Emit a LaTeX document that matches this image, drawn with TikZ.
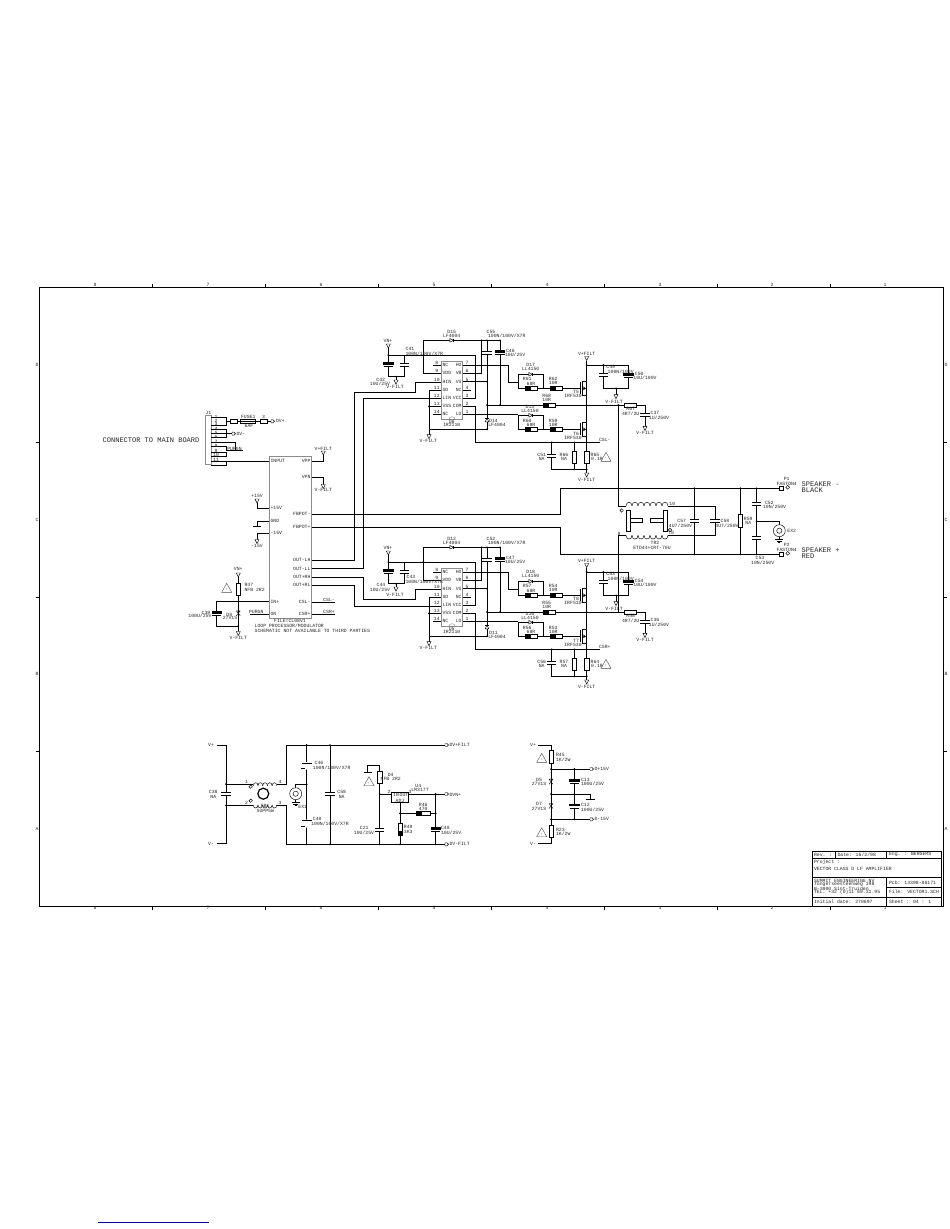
\documentclass[tikz,border=0pt]{standalone}
\usepackage{fontspec}
\setmainfont{Liberation Mono}
\newcounter{tn}
\tikzset{
  x=1pt,y=-1pt,
  wire/.style={line width=0.85pt,black,line join=miter},
  thin line/.style={line width=0.45pt,black},
  lbl/.style={inner sep=0pt,outer sep=0pt,font=\fontsize{4.8}{5}\selectfont,text=black!85},
  big/.style={inner sep=0pt,outer sep=0pt,font=\fontsize{7}{8}\selectfont,text=black!85},
  gbox/.style={line width=0.7pt,draw=black!45,fill=white}
}
\newcommand{\lb}[4][]{\stepcounter{tn}\node[lbl,#1] (t\thetn) at (#2,#3) {#4};}
\newcommand{\bg}[3]{\stepcounter{tn}\node[big,anchor=west] (t\thetn) at (#1,#2) {#3};}
\newcommand{\dt}[2]{\fill (#1,#2) circle[radius=1];}
\newcommand{\resH}[3]{\draw[thin line,fill=white] (#1,#3-2) rectangle (#2,#3+2);}
\newcommand{\resHb}[3]{\draw[thin line,fill=white] (#1,#3-2) rectangle (#2,#3+2);\fill (#1,#3-1.5) rectangle (#1+5.5,#3+2.5);}
\newcommand{\resV}[3]{\draw[thin line,fill=white] (#1-2.2,#2) rectangle (#1+2.2,#3);}
\newcommand{\capV}[2]{\fill[white] (#1-5,#2-1.4) rectangle (#1+5,#2+1.4);\draw[wire] (#1-4.7,#2-1.5)--(#1+4.7,#2-1.5) (#1-4.7,#2+1.5)--(#1+4.7,#2+1.5);}
\newcommand{\capP}[2]{\fill[white] (#1-5,#2-1.4) rectangle (#1+5,#2+1.4);\draw[thin line,fill=black] (#1-4.7,#2-2.6) rectangle (#1+4.7,#2-0.8);\draw[wire] (#1-4.7,#2+1.5)--(#1+4.7,#2+1.5);}
\newcommand{\tri}[2]{\draw[thin line,fill=white] (#1-2,#2-2)--(#1+2,#2-2)--(#1,#2+2)--cycle;}
\newcommand{\gnd}[2]{\draw[thin line] (#1,#2-2)--(#1,#2) (#1-4,#2)--(#1+4,#2) (#1-2.5,#2+1.3)--(#1+2.5,#2+1.3) (#1-1,#2+2.6)--(#1+1,#2+2.6);}
\newcommand{\diH}[2]{\draw[thin line,fill=white] (#1-1.8,#2-1.8)--(#1+1.8,#2)--(#1-1.8,#2+1.8)--cycle;\draw[thin line] (#1+1.8,#2-1.8)--(#1+1.8,#2+1.8);}
\newcommand{\diV}[2]{\draw[thin line,fill=white] (#1-1.8,#2+1.8)--(#1,#2-1.8)--(#1+1.8,#2+1.8)--cycle;\draw[thin line] (#1-1.8,#2-1.8)--(#1+1.8,#2-1.8);}
\newcommand{\zen}[2]{\draw[thin line] (#1-2,#2-2.5)--(#1+2,#2+2.5) (#1+2,#2-2.5)--(#1-2,#2+2.5) (#1-2,#2-2.5)--(#1+2,#2-2.5);}
\newcommand{\warn}[2]{\draw[line width=0.4pt,black!70,fill=white] (#1,#2-5)--(#1+5,#2+4)--(#1-5,#2+4)--cycle;\lb{#1}{#2+1.5}{\fontsize{3}{3}\selectfont !}}
\newcommand{\flag}[2]{\draw[thin line,fill=white] (#1,#2-1.5)--(#1+2,#2-1.5)--(#1+3.5,#2)--(#1+2,#2+1.5)--(#1,#2+1.5)--cycle;}
\newcommand{\coil}[5]{\foreach \i [evaluate=\i as \a using #1+\i*#4, evaluate=\i as \b using #1+(\i+1)*#4] in {0,...,#3}{\draw[thin line] (\a,#2) .. controls (\a,#2+#5) and (\b,#2+#5) .. (\b,#2);}}
\newcommand{\fet}[1]{\draw[wire] (575,#1)--(580,#1);\draw[thin line] (580,#1-6)--(580,#1+6);\draw[thin line,fill=white] (582,#1-7) rectangle (586.7,#1+7);\draw[thin line] (582,#1)--(586.7,#1) (583.5,#1-1.5)--(583.5,#1+1.5)--(585.5,#1)--cycle;}
\newcommand{\bnc}[2]{\draw[thin line,fill=white] (#1,#2) circle[radius=6];\draw[thin line] (#1,#2) circle[radius=2.6];\gnd{#1}{#2+9}\draw[thin line] (#1,#2+6)--(#1,#2+7);}
% half-bridge driver: #1 vertical offset; names come from \def's
\newcommand{\driver}[1]{%
\begin{scope}[shift={(0,#1)}]
\draw[wire] (433.3,365.3)--(441.7,365.3) (433.3,414.3)--(441.7,414.3)
 (441.7,373.3)--(423.3,373.3)--(423.3,340.3)--(500,340.3)--(500,405)
 (487,340.3)--(487,429.3)--(429,429.3)
 (462.3,373.3)--(481.7,373.3)--(481.7,340.3)
 (462.3,381.7)--(487,381.7)
 (462.3,390)--(470.7,390)
 (462.3,398)--(475,398)--(475,355)--(388.3,355)--(388.3,347)
 (462.3,406.3)--(475,406.3)--(475,442.3)--(600,442.3)
 (462.3,365.3)--(508.3,365.3)--(508.3,382.3)--(518.3,382.3)
 (462.3,414.3)--(518.3,414.3)
 (441.7,390)--(429,390)--(429,434.5)
 (441.7,406.3)--(429,406.3)
 (388.3,355)--(388.3,376.7)--(404.3,376.7)--(404.3,355)
 (396,376.7)--(396,380)
 (518.3,374.3)--(543.3,374.3)--(543.3,388.3)--(518.3,388.3)--cycle
 (543.3,388.3)--(575,388.3)
 (518.3,415.3)--(543.3,415.3)--(543.3,429.3)--(518.3,429.3)--cycle
 (543.3,429.3)--(575,429.3)
 (487,405)--(645,405)--(645,426)
 (586.7,360.5)--(586.7,469.3)--(551.7,469.3)--(551.7,442.3)
 (586.7,469.3)--(586.7,473)
 (574.3,442.3)--(574.3,469.3)
 (586.7,365)--(628.3,365)--(628.3,388.3)--(603.3,388.3)--(603.3,365)
 (616,388.3)--(616,394.7);
\fill[white] (441.7,361.7) rectangle (462.3,419);
\draw[gbox] (441.7,361.7) rectangle (462.3,419);
\draw[line width=0.4pt,black!50] (449,419) .. controls (449,416) and (455,416) .. (455,419);
\foreach \yy/\l/\ln/\r/\rn in {365.3/8/NC/7/HO,373.3/9/VDD/6/VB,381.7/10/HIN/5/VS,390/11/SD/4/NC,398/12/LIN/3/VCC,406.3/13/VSS/2/COM,414.3/14/NC/1/LO}{
  \lb{436.8}{\yy-2}{\l}\lb{467}{\yy-2}{\r}
  \lb[anchor=west]{442.5}{\yy}{\ln}\lb[anchor=east]{461.6}{\yy}{\rn}}
\foreach \xx/\yy in {423.3/355,487/340.3,500/340.3,481.7/340.3,487/381.7,487/405,500/405,429/406.3,487/429.3,396/376.7,388.3/355,586.7/365,603.3/365,586.7/405,586.7/442.3,551.7/442.3,574.3/442.3,574.3/469.3,586.7/469.3,616/388.3}{\dt{\xx}{\yy}}
\diH{451.7}{340.3}\diV{487}{420}
\capV{487}{353}\capP{500}{353}
\capP{388.3}{365}\capV{404.3}{365}
\tri{388.3}{346}\tri{396}{382}\tri{429}{436.7}
\diH{530.7}{374.3}\diH{530.7}{415.3}
\resHb{525}{537}{388.3}\resHb{550}{562}{388.3}
\resHb{525}{537}{429.3}\resHb{550}{562}{429.3}
\resHb{543}{555}{405}\resH{624.3}{636.7}{405}
\fet{388.3}\fet{429.3}
\tri{586.7}{358.5}\tri{586.7}{475}\tri{616}{396.7}\tri{645}{428.3}
\resV{574.3}{451}{463.3}\resV{586.7}{451}{463.3}\capV{551.7}{456}
\capV{603.3}{375}\capP{628.3}{376}\capV{645}{415}
\warn{606}{457.3}
\lb{451.7}{332.3}{\nD}\lb{451.7}{336}{LF4004}
\lb{491}{332.3}{\nCa}\lb[anchor=west]{488}{336}{100N/100V/X7R}
\lb[anchor=west]{506}{351}{\nCb}\lb[anchor=west]{505}{355}{10U/25V}
\lb{451.7}{421.7}{\nU}\lb{451.7}{425.3}{IR2110}
\lb{493.5}{421.3+\dLift}{\nDb}\lb{497}{425+\dLift}{LF4004}
\lb{530.7}{365}{\nDc}\lb{530.7}{369.3}{LL4150}
\lb{527.3}{379.3}{\nRa}\lb{531}{384}{68R}
\lb{553.3}{379.3}{\nRb}\lb{553.3}{383.3}{10R}
\lb{576}{391.7}{\nTa}\lb{573}{396}{IRF530}
\lb{546.7}{396}{\nRc}\lb{546.7}{400.3}{10R}
\lb{530}{406.7}{\nDd}\lb{530}{410.7}{LL4150}
\lb{527.3}{421}{\nRd}\lb{531}{425}{68R}
\lb{553.3}{421}{\nRe}\lb{553.3}{425}{10R}
\lb{576}{434}{\nTb}\lb{573}{438.3}{IRF530}
\lb{541.7}{455}{\nCc}\lb{541.7}{459}{NA}
\lb{564}{455}{\nRf}\lb{564}{459}{NA}
\lb{595}{455}{\nRg}\lb{597}{459}{0.1R}
\lb[anchor=west]{599}{440}{\nCS}
\lb{586.7}{480}{V-FILT}\lb{586.7}{354}{V+FILT}
\lb{428.3}{441.3}{V-FILT}
\lb{610.7}{367.3}{\nCd}\lb{620.7}{371.7}{100N/100V}
\lb{639.3}{374}{\nCe}\lb{645}{378}{10U/100V}
\lb{614}{402.3}{V-FILT}
\lb{630.7}{409.3}{\nRh}\lb{630.7}{413.3}{4R7/2U}
\lb{655}{413.3}{\nCf}\lb{659}{417.3}{1U/250V}
\lb{645}{432.7}{V-FILT}
\end{scope}}
\begin{document}
\begin{tikzpicture}[x=1pt,y=-1pt]
\useasboundingbox (0,0) rectangle (950,1229);
\fill[white] (0,0) rectangle (950,1229);
% frame
\draw[line width=1pt] (39.5,287.5) rectangle (943,906);
\foreach \xx in {152,265,378,491,604,717,830}{\draw[wire] (\xx,283.5)--(\xx,287.5) (\xx,906)--(\xx,910);}
\foreach \yy in {442,597.5,751.5}{\draw[wire] (35.5,\yy)--(39.5,\yy) (943,\yy)--(947,\yy);}
\foreach \xx/\n in {95/8,208/7,321/6,434/5,547/4,660/3,772/2,885/1}{\lb{\xx}{285}{\n}\lb{\xx}{908}{\n}}
\foreach \yy/\n in {365/D,520/C,674/B,829/A}{\lb{37}{\yy}{\n}\lb{946}{\yy}{\n}}
\draw[line width=1pt,color={rgb,255:red,0;green,0;blue,160}] (98,1222)--(209,1222);
% connector J1
\draw[gbox] (205.7,415) rectangle (211,464);
\lb{208.3}{412.7}{J1}
\draw[wire] (211,417.7)--(226.7,417.7)--(226.7,425)--(211,425)
 (226.7,421.3)--(230.3,421.3) (237.7,421.3)--(240,421.3) (255.7,421.3)--(260,421.3) (267.3,421.3)--(271,421.3)
 (211,429.7)--(226.7,429.7)--(226.7,437.7)--(211,437.7) (211,433.7)--(232,433.7)
 (211,442.7)--(235,442.7)--(235,450.7) (211,446.7)--(226.7,446.7)--(226.7,450.7)--(243,450.7)
 (211,452.3)--(226.7,452.3)--(226.7,456)--(211,456)
 (211,461)--(226.7,461)--(226.7,465)--(211,465) (226.7,461)--(269.7,461);
\draw[thin line,fill=white] (230.3,419.3) rectangle (237.7,423.3);
\draw[thin line,fill=white] (240,419.3) rectangle (255.7,423.3);
\draw[thin line] (240,421.3)--(255.7,421.3);
\draw[thin line,fill=white] (260,419.3) rectangle (267.3,423.3);
\flag{271}{421.3}\flag{232}{433.7}
\foreach \yy/\n in {417.7/1,421.7/2,425/3,429.7/4,433.7/5,437.7/6,442.7/7,446.7/8,452.3/9,456/10,461/11}{\lb{216}{\yy-1}{\n}}
\lb{248.3}{417.3}{FUSE1}\lb{249}{425.5}{6AF}\lb{263.5}{417}{3}
\lb[anchor=west]{276}{421.3}{DV+}\lb[anchor=west]{236.5}{433.7}{DV-}
\lb{234.5}{448.5}{PURGN}
\stepcounter{tn}\node[big,anchor=west] (t\thetn) at (102.7,440) {CONNECTOR TO MAIN BOARD};
% main block
\draw[wire] (311.3,461)--(323.3,461)--(323.3,455)
 (311.3,477.3)--(323.3,477.3)--(323.3,485)
 (269.7,508.3)--(257,508.3)--(257,503)
 (269.7,521)--(257.7,521)--(257.7,526.7) (253,526.7)--(261,526.7)
 (269.7,533.3)--(257,533.3)--(257,540)
 (311.3,514.3)--(560.7,514.3)--(560.7,488.3)--(779,488.3)
 (311.3,527.3)--(560.7,527.3)--(560.7,554.3)--(779,554.3)
 (311.3,560.3)--(354.5,560.3)--(354.5,392.5)--(415.7,392.5)--(415.7,382)--(441.7,382)
 (311.3,568.7)--(363.3,568.7)--(363.3,398.3)--(441.7,398.3)
 (311.3,577)--(363.3,577)--(363.3,599.3)--(415.7,599.3)--(415.7,589.3)--(441.7,589.3)
 (311.3,585.3)--(354.5,585.3)--(354.5,606)--(441.7,606)
 (311.3,602)--(335,602) (311.3,614.3)--(335,614.3)
 (269.7,601.7)--(216.7,601.7)--(216.7,626)--(238.3,626)
 (238.3,577)--(238.3,632)
 (249.5,614.3)--(269.7,614.3);
\draw[gbox] (269.7,456.7) rectangle (311.3,618.7);
\foreach \yy/\t in {461/INPUT,508.3/+15V,521/GND,533.3/-15V,601.7/IN+,614.3/ON}{\lb[anchor=west]{270.5}{\yy}{\t}}
\foreach \yy/\t in {461/VPP,477.3/VPN,514.3/FBPOT-,527.3/FBPOT+,560.3/OUT-LH,568.7/OUT-LL,577/OUT+RH,585.3/OUT+RL,602/CSL-,614.3/CSR+}{\lb[anchor=east]{310.5}{\yy}{\t}}
\tri{323.3}{453}\tri{323.3}{486.5}\tri{257}{501}\tri{257}{541.5}
\lb{323.3}{449}{V+FILT}\lb{323.3}{489.5}{V-FILT}\lb{257}{496}{+15V}\lb{257}{546}{-15V}
\lb{329}{600}{CSL-}\lb{329}{612}{CSR+}
\lb{290}{620.7}{FILE=CL08V1}
\lb[anchor=west]{254.7}{625.3}{LOOP PROCESSOR/MODULATOR}
\lb[anchor=west]{254.7}{631.3}{SCHEMATIC NOT AVAILABLE TO THIRD PARTIES}
\lb[anchor=west]{249}{612}{PURGN}
\resV{238.3}{583.3}{595.7}\tri{238.3}{575}\tri{238.3}{633.5}
\capP{216.7}{614}\zen{238.3}{613.3}\dt{238.3}{601.7}\dt{238.3}{626}
\warn{226.7}{588.3}
\lb{238.3}{569.3}{VN+}\lb{238.3}{638.3}{V-FILT}
\lb[anchor=west]{244.5}{585}{R47}\lb[anchor=west]{244.5}{589.5}{NFB 2R2}
\lb{206}{612.5}{C39}\lb{200}{616}{100U/25V}\lb{229.3}{614.5}{D8}\lb{230}{618.3}{27V1S}
% drivers
\def\nD{D15}\def\nCa{C55}\def\nCb{C46}\def\nU{U6}\def\nDb{D14}\def\nDc{D17}\def\nRa{R61}\def\nRb{R62}\def\nTa{T5}\def\nRc{R68}\def\nDd{D13}\def\nRd{R60}\def\nRe{R59}\def\nTb{T6}\def\nCc{C51}\def\nRf{R66}\def\nRg{R65}\def\nCS{CSL-}\def\nCd{C49}\def\nCe{C50}\def\nRh{R67}\def\nCf{C37}\def\dLift{0}
\driver{0}
\def\nD{D12}\def\nCa{C52}\def\nCb{C47}\def\nU{U5}\def\nDb{D11}\def\nDc{D18}\def\nRa{R57}\def\nRb{R54}\def\nTa{T8}\def\nRc{R55}\def\nDd{D16}\def\nRd{R56}\def\nRe{R53}\def\nTb{T7}\def\nCc{C56}\def\nRf{R57}\def\nRg{R64}\def\nCS{CSR+}\def\nCd{C53}\def\nCe{C54}\def\nRh{R58}\def\nCf{C36}\def\dLift{4.5}
\driver{207}
\lb{388}{341}{VN+}\lb{388}{548}{VN+}
\lb{410}{349.3}{C41}\lb{424.3}{353.3}{100N/100V/X7R}
\lb{380.7}{380}{C42}\lb{380}{384}{10U/25V}\lb{395}{387.3}{V-FILT}
\lb{411}{577.3}{C43}\lb{424.3}{581.7}{100N/100V/X7R}
\lb{381}{585}{C44}\lb{380}{589.5}{10U/25V}\lb{395}{595}{V-FILT}
% output filter
\draw[wire] (618.3,405)--(618.3,506)--(626,506)
 (618.3,612)--(618.3,535.3)--(626,535.3)
 (668,506)--(715,506)--(715,535.3)--(668,535.3)
 (694.3,488.3)--(694.3,554.3) (740.3,488.3)--(740.3,554.3) (756.7,488.3)--(756.7,554.3)
 (756.7,521.3)--(779.3,521.3)--(779.3,525);
\dt{618.3}{405}\dt{694.3}{488.3}\dt{740.3}{488.3}\dt{756.7}{488.3}\dt{694.3}{554.3}\dt{740.3}{554.3}\dt{756.7}{554.3}\dt{756.7}{521.3}\dt{618.3}{488.3}\dt{618.3}{554.3}
\coil{626}{506}{6}{6}{-5}\coil{626}{535.3}{6}{6}{5}
\draw[wire] (626,510.7) rectangle (630.7,531.3) (663,510.7) rectangle (667.7,531.3)
 (630.7,518.3) rectangle (642.7,522.3) (650.3,518.3) rectangle (663,522.3);
\draw[thin line] (621.7,510.5) circle[radius=1.7] (670,530) circle[radius=1.7];
\capV{694.3}{520.7}\capV{715}{520.7}\capV{756.7}{504.3}\capV{756.7}{537.7}
\resV{740.3}{514.3}{527.7}
\bnc{779.3}{530.7}
\draw[thin line,fill=white] (779,486) rectangle (783,490.7) (779,552) rectangle (783,556.7);
\draw[thin line] (787.7,487.3) circle[radius=1.9] (787.7,553.3) circle[radius=1.9];
\lb{672.3}{504.3}{10}\lb{619}{533.5}{8}\lb{671}{532.5}{70}
\lb{655}{543.3}{TR2}\lb{652}{547.7}{ETD44+CRT-70U}
\lb{681.7}{521.3}{C57}\lb{680.5}{525.5}{4U7/250V}
\lb{725}{521.3}{C58}\lb{727}{525.5}{4U7/250V}
\lb{748.3}{519.3}{R59}\lb{748.3}{523}{NA}
\lb[anchor=west]{765}{502.7}{C52}\lb[anchor=west]{763}{506.7}{10N/250V}
\lb{760}{558.3}{C53}\lb{762.7}{562.7}{10N/250V}
\lb{791.7}{531}{EX2}
\lb{786.7}{479}{P1}\lb{786.7}{483.7}{FASTON4}
\lb{786.7}{545.3}{P2}\lb{786.7}{550}{FASTON4}
\bg{801.7}{484}{SPEAKER -}\bg{801.7}{490.3}{BLACK}
\bg{801.7}{550}{SPEAKER +}\bg{801.7}{556.3}{RED}
% power input
\draw[wire] (216.7,745)--(226,745)--(226,843.3)--(216.7,843.3)
 (226,784)--(253,784) (276.7,784)--(286.7,784)--(286.7,745)--(445,745)
 (226,805.3)--(253,805.3) (276.7,805.3)--(286.7,805.3)--(286.7,844.3)--(445,844.3)
 (306.7,745)--(306.7,844.3) (330,745)--(330,844.3)
 (295.7,784.3)--(306.7,784.3) (295.7,784.3)--(295.7,788)
 (379.7,765)--(379.7,844.3) (379.7,765)--(367.5,765)--(367.5,772.7) (363.5,772.7)--(372,772.7)
 (379.7,794)--(445,794)
 (400,802.7)--(400,844.3) (400,813.3)--(435.7,813.3) (435.7,794)--(435.7,844.3);
\foreach \xx/\yy in {226/784,226/805.3,306.7/745,330/745,306.7/844.3,330/844.3,306.7/784.3,379.7/844.3,400/844.3,435.7/844.3,379.7/794,435.7/794,400/813.3,435.7/813.3}{\dt{\xx}{\yy}}
\capV{226}{793.7}
\coil{253.3}{785.7}{4}{4.7}{-4}\coil{253.3}{805}{4}{4.7}{4}
\draw[thin line] (250.7,786.7) circle[radius=1.7] (250.7,800.7) circle[radius=1.7];
\draw[line width=1.2pt] (263.3,793.7) circle[radius=5.5];
\bnc{295.7}{793.7}
\fill[white] (300,762) rectangle (313,769.5) (300,819.5) rectangle (313,827.5);
\draw[wire] (302,763.3)--(311.5,763.3) (302,820.7)--(311.5,820.7);
\draw[line width=1.6pt] (301,768.5)--(305,768.5) (301,826.5)--(305,826.5);
\capV{330}{793.7}
\capV{379.7}{829.5}\capP{435.7}{830}
\resV{379.7}{771.7}{783.3}\warn{369}{781.7}
\draw[thin line,fill=white] (391.7,792.3) rectangle (408.3,802.7);
\lb{396}{795}{IN}\lb{404}{795}{OUT}\lb{400}{800.5}{ADJ}
\resHb{416.7}{430}{813.3}
\draw[thin line,fill=white] (397.8,823.3) rectangle (402.2,835.7);\fill (397.8,830.5) rectangle (402.2,835.7);
\flag{445}{745}\flag{445}{794}\flag{445}{844.3}
\lb[anchor=west]{449.5}{745}{DV+FILT}\lb[anchor=west]{449.5}{794.7}{DVN+}\lb[anchor=west]{449.5}{844.3}{DV-FILT}
\lb{211}{745}{V+}\lb{211}{844}{V-}
\lb{213.3}{792.3}{C38}\lb{213.3}{796.7}{NA}
\lb{246.5}{782}{1}\lb{280}{782.3}{4}\lb{246.5}{802.7}{2}\lb{280}{802.7}{3}
\lb{265.3}{806}{FB1}\lb{265.3}{810.7}{SUPP5W}
\lb{302.7}{806.7}{EX1}
\lb{319}{763.3}{C46}\lb{331.7}{767.7}{100N/100V/X7R}
\lb{317.3}{819.3}{C40}\lb{330}{824}{100N/100V/X7R}
\lb{341.7}{792.3}{C58}\lb{341.7}{796.7}{NA}
\lb{390.7}{775}{D4}\lb{390.7}{779.3}{NFB 2R2}
\lb{389}{792}{2}\lb{410}{792}{3}
\lb{418.3}{786}{U4}\lb{420}{790}{LM317T}
\lb{423.3}{805.3}{R46}\lb{423.3}{809.3}{470}
\lb{408.3}{827.3}{R49}\lb{408.3}{831.7}{3K3}
\lb{364.3}{827.7}{C21}\lb{364}{833}{10U/25V}
\lb[anchor=west]{441}{828.3}{C48}\lb[anchor=west]{441}{833}{10U/25V}
% +/-15 V supply
\draw[wire] (538.3,745)--(551,745)--(551,843.3)--(538.3,843.3)
 (551,769)--(590,769) (551,794)--(590,794)--(590,799) (585.5,799)--(594.5,799) (551,819.3)--(590,819.3)
 (574.3,769)--(574.3,819.3);
\foreach \xx/\yy in {551/769,574.3/769,551/794,574.3/794,551/819.3,574.3/819.3}{\dt{\xx}{\yy}}
\resV{551}{750}{763.3}\resV{551}{825.7}{837.7}
\zen{551}{781.7}\zen{551}{806}
\capP{574.3}{781.7}\capP{574.3}{806.5}
\warn{541.7}{758.3}\warn{541.7}{832.7}
\flag{590}{769}\flag{590}{819.3}
\lb[anchor=west]{594.5}{769}{D+15V}\lb[anchor=west]{594.5}{819.3}{D-15V}
\lb{533}{745}{V+}\lb{533}{844}{V-}
\lb[anchor=west]{556}{755}{R45}\lb[anchor=west]{556}{759.3}{1K/2W}
\lb{539}{780}{D5}\lb{539}{784}{27V1S}
\lb{539}{804}{D7}\lb{539}{808.7}{27V1S}
\lb[anchor=west]{556}{830}{R23}\lb[anchor=west]{556}{834}{1K/2W}
\lb[anchor=west]{581}{780}{C13}\lb[anchor=west]{581}{784}{100U/25V}
\lb[anchor=west]{581}{804.7}{C12}\lb[anchor=west]{581}{809.3}{100U/25V}
% title block
\draw[line width=0.8pt,fill=white] (812.3,851) rectangle (941.7,906);
\draw[line width=0.8pt] (812.3,858.3)--(941.7,858.3) (812.3,877.3)--(941.7,877.3) (812.3,897)--(941.7,897)
 (835.7,851)--(835.7,858.3) (886.7,851)--(886.7,858.3) (886.7,877.3)--(886.7,906) (886.7,887)--(941.7,887);
\lb[anchor=west]{814}{854.7}{Rev. :}\lb[anchor=west]{837.5}{854.7}{Date: 16/2/98}\lb[anchor=west]{889}{854.7}{Eng. :  BERGERS}
\lb[anchor=west]{814}{862.3}{Project :}\lb[anchor=west]{814}{869}{VECTOR CLASS D LF AMPLIFIER}
\lb[anchor=west]{814}{881}{SUMMIT ENGINEERING NV}\lb[anchor=west]{814}{884.7}{Tongerseesteenweg 198}\lb[anchor=west]{814}{888.7}{B-3800 Sint-Truiden}\lb[anchor=west]{814}{892.7}{TEL. +32 (0)11 69.31.95}
\lb[anchor=west]{889}{882.5}{Pcb: 13398-86171}\lb[anchor=west]{889}{892}{File: VECTOR1.SCH}
\lb[anchor=west]{814}{902}{Initial date: 270697}\lb[anchor=west]{889}{902}{Sheet : 04 : 1}
\end{tikzpicture}
\end{document}
